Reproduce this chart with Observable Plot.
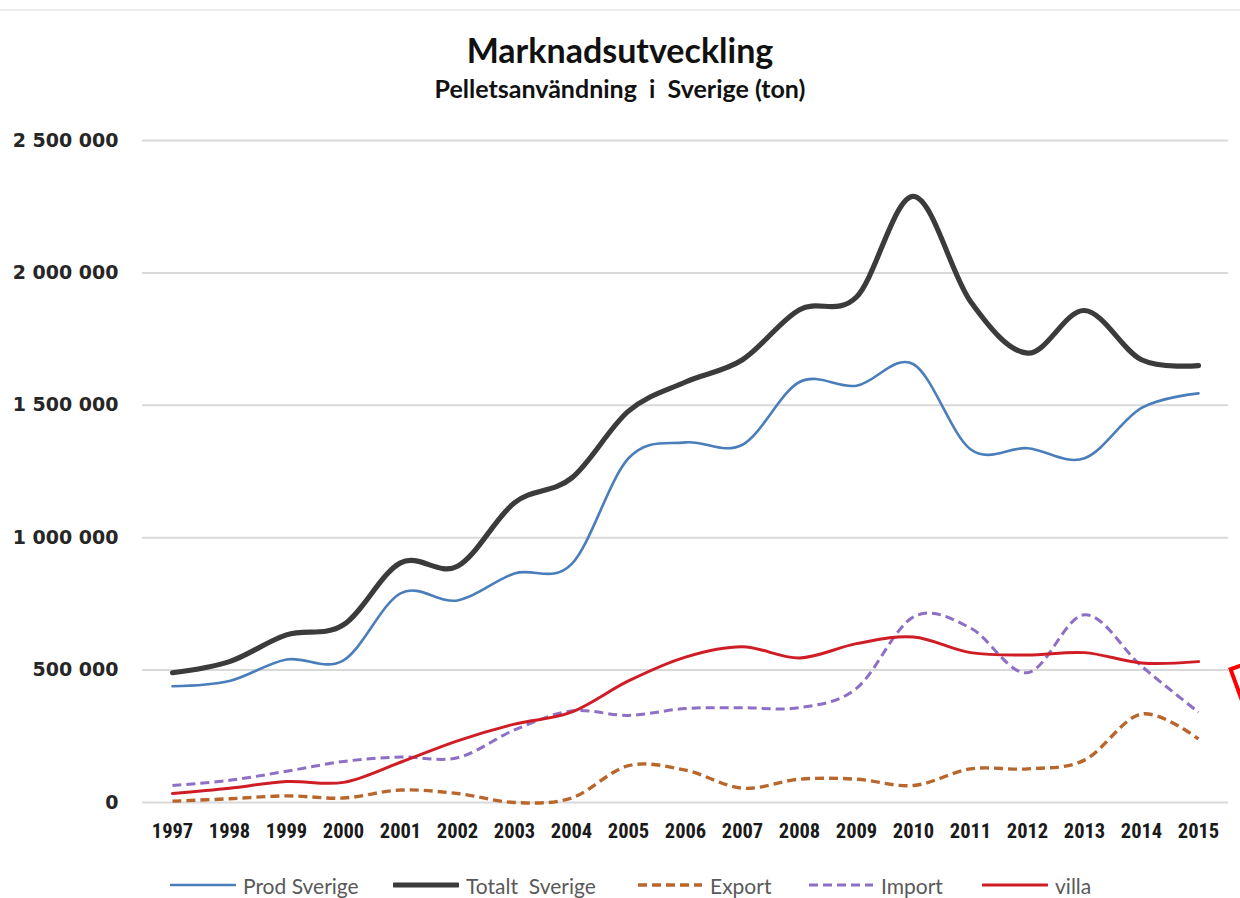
<!DOCTYPE html>
<html>
<head>
<meta charset="utf-8">
<script src="https://cdn.jsdelivr.net/npm/d3@7"></script>
<script src="https://cdn.jsdelivr.net/npm/@observablehq/plot@0.6"></script>
<style>
  html, body { margin: 0; padding: 0; background: #fff; }
  #page { position: relative; width: 1240px; height: 898px; overflow: hidden; background: #fff; }
  .calib { font-family: Lato, "Open Sans", sans-serif; }
  #topline { position: absolute; left: 0; top: 9px; width: 1240px; height: 2px; background: #ececec; }
  #title { position: absolute; left: 0; width: 1240px; top: 29px; text-align: center; font-weight: bold; font-size: 34px; color: #111; line-height: 42px; }
  #subtitle { position: absolute; left: 0; width: 1240px; top: 73px; text-align: center; font-weight: bold; font-size: 25px; color: #111; line-height: 30px; }
  #chart { position: absolute; left: 0; top: 0; }
  #legend { position: absolute; top: 873px; left: 0; width: 1240px; height: 24px; font-size: 21px; color: #595959; }
  #legend .item { position: absolute; top: 0; display: flex; align-items: center; height: 24px; }
  #legend svg { display: block; margin-right: 7px; }
  #deco { position: absolute; left: 1228px; top: 668px; width: 60px; height: 60px; border: 4px solid #ff0000; transform-origin: 0 0; transform: rotate(-20deg); box-sizing: border-box; }
</style>
</head>
<body>
<div id="page">
  <div id="topline"></div>
  <div id="title" class="calib">Marknadsutveckling</div>
  <div id="subtitle" class="calib">Pelletsanvändning &nbsp;i&nbsp; Sverige (ton)</div>
  <div id="chart"></div>
  <div id="legend" class="calib"></div>
  <div id="deco"></div>
</div>
<script>
// ---- data ----
const years = ["1997","1998","1999","2000","2001","2002","2003","2004","2005","2006","2007","2008","2009","2010","2011","2012","2013","2014","2015"];
const prodSverige   = [439000, 459000, 540000, 537000, 790000, 763000, 865000, 900000, 1300000, 1360000, 1351000, 1588000, 1574000, 1655000, 1334000, 1338000, 1300000, 1490000, 1545000];
const totaltSverige = [490000, 532000, 633000, 671000, 905000, 892000, 1132000, 1225000, 1478000, 1588000, 1672000, 1861000, 1909000, 2289000, 1892000, 1697000, 1858000, 1672000, 1650000];
const exportData    = [5000, 14000, 25000, 17000, 47000, 34000, 0, 17000, 139000, 122000, 54000, 88000, 88000, 64000, 127000, 127000, 160000, 334000, 240000];
const importData    = [64000, 84000, 118000, 155000, 172000, 169000, 274000, 346000, 329000, 355000, 358000, 358000, 431000, 701000, 659000, 490000, 709000, 515000, 341000];
const villa         = [34000, 54000, 79000, 76000, 152000, 233000, 296000, 341000, 459000, 549000, 588000, 546000, 600000, 625000, 566000, 557000, 566000, 527000, 532000];
const yTicks = [0, 500000, 1000000, 1500000, 2000000, 2500000];

const seriesNames = ["Prod Sverige", "Totalt  Sverige", "Export", "Import", "villa"];
const seriesValues = [prodSverige, totaltSverige, exportData, importData, villa];
const seriesStyle = [
  {stroke: "#4a7ebb", width: 2.6, dash: null},
  {stroke: "#3b3b3b", width: 5.2, dash: null},
  {stroke: "#b8662b", width: 3.4, dash: "9,5"},
  {stroke: "#8d6fc6", width: 3.0, dash: "9,5"},
  {stroke: "#cf1d25", width: 3.0, dash: null}
];
const legendLeft = [170, 393, 637, 808, 982];

const fmt = v => d3.format(",")(v).replace(/,/g, " ");

const lineMarks = seriesNames.map((name, i) => {
  const rows = years.map((y, j) => ({year: y, value: seriesValues[i][j]}));
  const st = seriesStyle[i];
  return Plot.line(rows, {
    x: "year", y: "value", curve: "cardinal",
    stroke: st.stroke, strokeWidth: st.width,
    strokeDasharray: st.dash || undefined,
    strokeLinecap: st.dash ? "butt" : "round", strokeLinejoin: "round"
  });
});

const order = [2, 3, 4, 0, 1];

const chart = Plot.plot({
  width: 1240,
  height: 860,
  marginTop: 140,
  marginBottom: 58,
  marginLeft: 142,
  marginRight: 12,
  style: {background: "transparent", overflow: "visible"},
  x: {type: "point", domain: years, padding: 0.5, label: null},
  y: {domain: [0, 2500000], label: null},
  marks: [
    Plot.ruleY(yTicks, {stroke: "#d9d9d9", strokeWidth: 2}),
    Plot.axisY({ticks: yTicks, tickFormat: fmt, tickSize: 0, tickPadding: 24, fontSize: 19, fontWeight: "bold", fill: "#262626", fontFamily: "DejaVu Sans", label: null}),
    Plot.axisX({tickSize: 0, tickPadding: 21, fontSize: 20.5, fontWeight: "bold", fill: "#1a1a1a", fontFamily: "Liberation Sans Narrow, Arial Narrow, Roboto Condensed, Open Sans, sans-serif", label: null}),
    ...order.map(i => lineMarks[i])
  ]
});
document.getElementById("chart").appendChild(chart);

// legend
const legend = d3.select("#legend");
seriesNames.forEach((name, i) => {
  const st = seriesStyle[i];
  const item = legend.append("div").attr("class", "item").style("left", legendLeft[i] + "px");
  const svg = item.append("svg").attr("width", 66).attr("height", 12);
  svg.append("line").attr("x1", 1).attr("x2", 65).attr("y1", 6).attr("y2", 6)
    .attr("stroke", st.stroke).attr("stroke-width", Math.min(st.width, 5))
    .attr("stroke-dasharray", st.dash)
    .attr("stroke-linecap", st.dash ? "butt" : "round");
  item.append("span").style("white-space", "pre").text(name);
});
</script>
</body>
</html>
